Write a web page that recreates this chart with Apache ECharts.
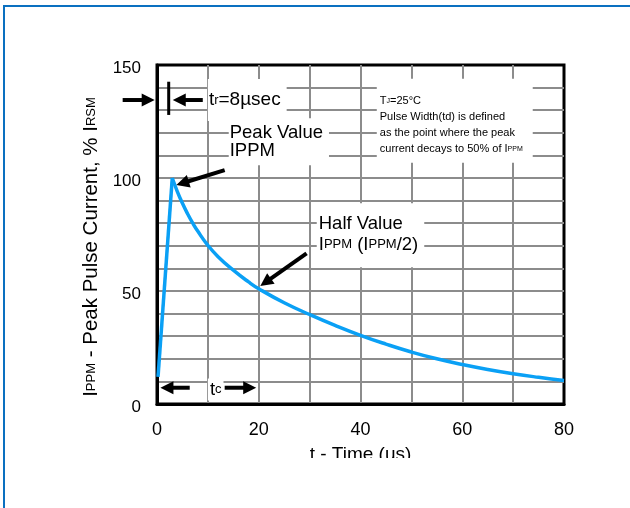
<!DOCTYPE html>
<html>
<head>
<meta charset="utf-8">
<script src="https://cdn.jsdelivr.net/npm/echarts@6/dist/echarts.min.js"></script>
<style>
html, body { margin: 0; padding: 0; background: #fff; }
#main { width: 630px; height: 508px; }
</style>
</head>
<body>
<div id="main"></div>
<script>
// pulse waveform, time in us, current in % of IRSM
const riseTime = [0.2, 3];
const riseCurrent = [12, 100];
const decayTime = [3, 4, 5, 6, 7, 8, 10, 12, 15, 18, 20, 25, 30, 35, 40, 45, 50, 55, 60, 65, 70, 75, 80];
const decayCurrent = [100, 94, 88.8, 84.2, 80.1, 76.5, 70.2, 65.2, 59.2, 54, 51, 44.8, 39.6, 34.8, 30.4, 26.5, 23, 20, 17.5, 15.3, 13.4, 11.8, 10.4];
const xTickLabels = [0, 20, 40, 60, 80];
const yTickLabels = [0, 50, 100, 150];

// annotation arrows in data units: [tailT, tailV, tipT, tipV]
const arrowPeak = [13.3, 103.5, 3.8, 96.9];
const arrowHalf = [29.4, 66.7, 20.3, 52.2];
const arrowTrLeft = [-6.75, 134.5, -0.45, 134.5];
const arrowTrRight = [9.0, 134.5, 3.1, 134.5];
const arrowTcLeft = [6.43, 7.2, 0.67, 7.2];
const arrowTcRight = [13.3, 7.2, 19.5, 7.2];
const trBar = [2.3, 142.6, 2.3, 127.9];

const FONT = '"Liberation Sans", Arial, sans-serif';

const chart = echarts.init(document.getElementById('main'));

const option = {
  animation: false,
  grid: {
    left: 157, right: 66, top: 65, bottom: 104,
    show: true, borderColor: '#000', borderWidth: 3
  },
  xAxis: {
    type: 'value', min: 0, max: 80, interval: 10,
    name: 't - Time (us)', nameLocation: 'middle', nameGap: 41,
    nameTextStyle: { fontFamily: FONT, fontSize: 19, color: '#000' },
    axisLine: { show: true, lineStyle: { color: '#000', width: 3 } },
    axisTick: { show: false },
    axisLabel: {
      margin: 17, fontFamily: FONT, fontSize: 18, color: '#000',
      formatter: v => (xTickLabels.includes(v) ? String(v) : '')
    },
    splitLine: { show: true, showMinLine: false, showMaxLine: false, lineStyle: { color: '#8c8c8c', width: 2 } }
  },
  yAxis: {
    type: 'value', min: 0, max: 150, interval: 10,
    name: 'I{s|PPM} - Peak Pulse Current, % I{s|RSM}', nameLocation: 'middle', nameGap: 52,
    nameTextStyle: {
      fontFamily: FONT, fontSize: 20.5, color: '#000', padding: [0, 25, 0, 0],
      rich: { s: { fontFamily: FONT, fontSize: 13, color: '#000' } }
    },
    axisLine: { show: true, lineStyle: { color: '#000', width: 3 } },
    axisTick: { show: false },
    axisLabel: {
      margin: 16, fontFamily: FONT, fontSize: 17, color: '#000', lineHeight: 26, verticalAlign: 'top',
      padding: [-10, 0, 0, 0],
      formatter: v => (yTickLabels.includes(v) ? String(v) : '')
    },
    splitLine: { show: true, showMinLine: false, showMaxLine: false, lineStyle: { color: '#8c8c8c', width: 2 } }
  },
  series: [
    {
      type: 'line', z: 5,
      data: riseTime.map((t, i) => [t, riseCurrent[i]]),
      showSymbol: false,
      lineStyle: { color: '#0aa0f5', width: 3.5 }
    },
    {
      type: 'line', z: 5,
      data: decayTime.map((t, i) => [t, decayCurrent[i]]),
      showSymbol: false,
      smooth: 0.5,
      lineStyle: { color: '#0aa0f5', width: 3.5 }
    }
  ]
};

chart.setOption(option);

const px = (t, v) => chart.convertToPixel({ gridIndex: 0 }, [t, v]);

function label(t, v, text, size, lh, pad, rich) {
  const p = px(t, v);
  return {
    type: 'text', x: p[0], y: p[1], z: 3,
    style: {
      text: text, fontFamily: FONT, fontSize: size, lineHeight: lh, fill: '#000',
      align: 'left', verticalAlign: 'middle',
      backgroundColor: '#fff', padding: pad, rich: rich || {}
    }
  };
}

function arrow(a) {
  const tail = px(a[0], a[1]);
  const tip = px(a[2], a[3]);
  const dx = tip[0] - tail[0], dy = tip[1] - tail[1];
  const len = Math.sqrt(dx * dx + dy * dy);
  const ux = dx / len, uy = dy / len;
  const head = 13, half = 6.5;
  const bx = tip[0] - ux * head, by = tip[1] - uy * head;
  return {
    type: 'group', z: 10,
    children: [
      {
        type: 'line', z: 10,
        shape: { x1: tail[0], y1: tail[1], x2: bx + ux, y2: by + uy },
        style: { stroke: '#000', lineWidth: 4 }
      },
      {
        type: 'polygon', z: 10,
        shape: { points: [tip, [bx - uy * half, by + ux * half], [bx + uy * half, by - ux * half]] },
        style: { fill: '#000' }
      }
    ]
  };
}

const b0 = px(trBar[0], trBar[1]);
const b1 = px(trBar[2], trBar[3]);

const subMid = { s: { fontFamily: FONT, fontSize: 13, fill: '#000' } };
const subTiny = { s: { fontFamily: FONT, fontSize: 7, fill: '#000' } };

chart.setOption({
  graphic: [
    label(10.0, 134.5, 't{s|r}=8µsec', 19, 22, [10, 6, 10, 1], subMid),
    label(14.1, 116, 'Peak Value\nIPPM', 18.5, 17.5, [6, 6, 6, 1]),
    label(43.2, 125.3, 'T{s|J}=25°C\nPulse Width(td) is defined\nas the point where the peak\ncurrent decays to 50% of I{s|PPM}',
      11, 16, [14, 10, 6, 3], subTiny),
    label(31.4, 74.7, 'Half Value\nI{s|PPM} (I{s|PPM}/2)', 18.5, 21, [10, 6, 12, 2], subMid),
    label(10.0, 6.4, 't{s|c}', 18.5, 20, [1, 2, 1, 2], subMid),
    arrow(arrowPeak), arrow(arrowHalf),
    arrow(arrowTrLeft), arrow(arrowTrRight),
    arrow(arrowTcLeft), arrow(arrowTcRight),
    {
      type: 'line', z: 10,
      shape: { x1: b0[0], y1: b0[1], x2: b1[0], y2: b1[1] },
      style: { stroke: '#000', lineWidth: 3 }
    },
    {
      type: 'rect', z: 100,
      shape: { x: 4, y: 6, width: 700, height: 600 },
      style: { fill: 'none', stroke: '#0a70c0', lineWidth: 2 }
    },
    {
      type: 'rect', z: 100,
      shape: { x: 290, y: 458, width: 140, height: 20 },
      style: { fill: '#fff' }
    }
  ]
});
</script>
</body>
</html>
